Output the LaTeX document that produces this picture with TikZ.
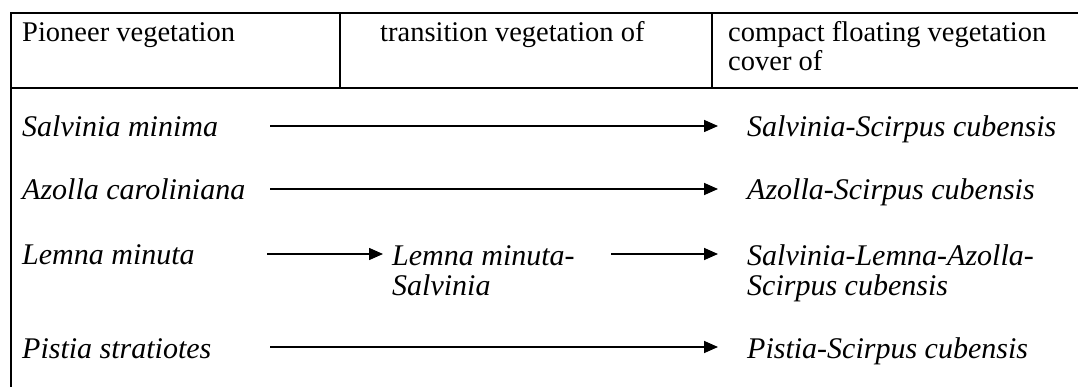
\documentclass[tikz,border=0pt]{standalone}
\usepackage{fontspec}
\setmainfont{Liberation Serif}
\usetikzlibrary{arrows.meta}

\begin{document}
\begin{tikzpicture}[x=1pt,y=-1pt,
    txt/.style={anchor=base west,inner sep=0pt,align=left,
      font=\fontsize{28.5}{29}\selectfont},
    sp/.style={txt,font=\fontsize{30}{30}\selectfont\itshape},
    rule/.style={line width=1.6pt},
    arr/.style={line width=1.6pt,-{Triangle[length=14pt,width=12pt]}}]
  \useasboundingbox (0,0) rectangle (1078,387);

  \draw[rule] (11,387) -- (11,13) -- (1078,13);
  \draw[rule] (11,88) -- (1078,88);
  \draw[rule] (340,13) -- (340,88);
  \draw[rule] (712,13) -- (712,88);

  % multi-line nodes sit on the baseline of their last line
  \node[txt] (hpio) at (22,42) {Pioneer vegetation};
  \node[txt] (htra) at (380,42) {transition vegetation of};
  \node[txt] (hcov) at (728,71) {compact floating vegetation\\cover of};

  \node[sp] (pio1) at (22,137) {Salvinia minima};
  \node[sp] (pio2) at (22,200) {Azolla caroliniana};
  \node[sp] (pio3) at (22,265) {Lemna minuta};
  \node[sp] (pio4) at (22,358) {Pistia stratiotes};

  \node[sp] (tra3) at (392,295) {Lemna minuta-\\Salvinia};

  \node[sp] (cov1) at (747,137) {Salvinia-Scirpus cubensis};
  \node[sp] (cov2) at (747,200) {Azolla-Scirpus cubensis};
  \node[sp] (cov3) at (747,295) {Salvinia-Lemna-Azolla-\\Scirpus cubensis};
  \node[sp] (cov4) at (747,358) {Pistia-Scirpus cubensis};

  \coordinate (s1) at (270,126);
  \coordinate (e1) at (718,126);
  \coordinate (s2) at (270,189);
  \coordinate (e2) at (718,189);
  \coordinate (s3) at (267,254);
  \coordinate (m3) at (383,254);
  \coordinate (n3) at (611,254);
  \coordinate (e3) at (718,254);
  \coordinate (s4) at (270,347);
  \coordinate (e4) at (718,347);

  \draw[arr] (s1) -- (e1);
  \draw[arr] (s2) -- (e2);
  \draw[arr] (s3) -- (m3);
  \draw[arr] (n3) -- (e3);
  \draw[arr] (s4) -- (e4);
\end{tikzpicture}
\end{document}
